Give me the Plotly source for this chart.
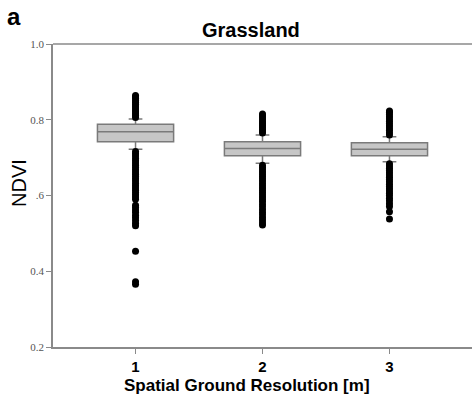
import plotly.graph_objects as go

# Resolutions (categories)
resolution = [1, 2, 3]
# Box statistics (NDVI)
q1 = [0.742, 0.705, 0.705]
median = [0.768, 0.724, 0.722]
q3 = [0.788, 0.742, 0.739]
lower_whisker = [0.722, 0.685, 0.689]
upper_whisker = [0.802, 0.760, 0.755]

# Outliers per resolution
outliers_1 = [0.806, 0.811, 0.816, 0.821, 0.826, 0.831, 0.836, 0.841, 0.846, 0.851, 0.856, 0.861, 0.864,
              0.716, 0.710, 0.704, 0.698, 0.692, 0.686, 0.680, 0.674, 0.668, 0.662, 0.656, 0.650, 0.644,
              0.638, 0.632, 0.626, 0.620, 0.614, 0.608, 0.602, 0.596, 0.590,
              0.574, 0.568, 0.562, 0.556, 0.548, 0.541, 0.534, 0.527, 0.520,
              0.453, 0.372, 0.366]
outliers_2 = [0.765, 0.770, 0.775, 0.780, 0.785, 0.790, 0.795, 0.800, 0.805, 0.810, 0.815,
              0.680, 0.674, 0.668, 0.662, 0.656, 0.650, 0.644, 0.638, 0.632, 0.626, 0.620, 0.614,
              0.608, 0.602, 0.596, 0.590, 0.584, 0.577, 0.570, 0.563, 0.556, 0.549, 0.542, 0.535,
              0.528, 0.522]
outliers_3 = [0.760, 0.766, 0.772, 0.778, 0.784, 0.790, 0.796, 0.802, 0.808, 0.814, 0.820, 0.823,
              0.684, 0.678, 0.672, 0.666, 0.660, 0.654, 0.648, 0.642, 0.636, 0.630, 0.624, 0.618,
              0.612, 0.606, 0.600, 0.593, 0.586, 0.578, 0.571, 0.557, 0.538]

y_ticks = [0.2, 0.4, 0.6, 0.8, 1.0]
y_ticktext = ["0.2", "0.4", ".6", "0.8", "1.0"]

W, H = 472, 400
L, R, T, B = 53, 0, 44, 53
pw, ph = W - L - R, H - T - B

def px(x):
    return (x - L) / pw

def py(y):
    return 1 - (y - T) / ph

fig = go.Figure()
for i, r in enumerate(resolution):
    fig.add_trace(go.Box(
        x=[r], q1=[q1[i]], median=[median[i]], q3=[q3[i]],
        lowerfence=[lower_whisker[i]], upperfence=[upper_whisker[i]],
        width=0.6, whiskerwidth=0.18,
        fillcolor="#c6c6c6", line=dict(color="#7a7a7a", width=1.5),
        showlegend=False, boxpoints=False,
    ))

for r, outs in zip(resolution, [outliers_1, outliers_2, outliers_3]):
    fig.add_trace(go.Scatter(
        x=[r] * len(outs), y=outs, mode="markers",
        marker=dict(color="black", size=7, line=dict(width=0)),
        showlegend=False,
    ))

sans = "Liberation Sans, Arial"
fig.update_layout(
    template="none",
    width=W, height=H,
    margin=dict(l=L, r=R, t=T, b=B),
    plot_bgcolor="white", paper_bgcolor="white",
    xaxis=dict(range=[0.35, 3.65], tickvals=resolution, ticktext=[f"<b>{r}</b>" for r in resolution],
               showline=True, linecolor="#8a8a8a", linewidth=1.5,
               ticks="outside", ticklen=5, tickcolor="#8a8a8a", showgrid=False, zeroline=False,
               tickfont=dict(family=sans, size=15, color="black")),
    yaxis=dict(range=[0.2, 1.0], tickvals=y_ticks, ticktext=y_ticktext,
               showline=True, linecolor="#8a8a8a", linewidth=1.5, mirror=False,
               ticks="outside", ticklen=5, tickcolor="#8a8a8a", showgrid=False, zeroline=False,
               tickfont=dict(family="Liberation Serif, Times New Roman", size=11, color="#555555")),
    shapes=[dict(type="line", xref="paper", yref="paper", x0=0, x1=1, y0=1, y1=1,
                 line=dict(color="#8a8a8a", width=1.5))],
)
fig.add_annotation(text="<b>a</b>", xref="paper", yref="paper", x=px(5), y=py(17),
                   xanchor="left", yanchor="middle", showarrow=False,
                   font=dict(family=sans, size=24, color="black"))
fig.add_annotation(text="<b>Grassland</b>", xref="paper", yref="paper", x=px(251), y=py(30),
                   xanchor="center", yanchor="middle", showarrow=False,
                   font=dict(family=sans, size=20, color="black"))
fig.add_annotation(text="<b>Spatial Ground Resolution [m]</b>", xref="paper", yref="paper",
                   x=px(247), y=py(385), xanchor="center", yanchor="middle", showarrow=False,
                   font=dict(family=sans, size=17, color="black"))
fig.add_annotation(text="NDVI", xref="paper", yref="paper", x=px(19), y=py(183),
                   xanchor="center", yanchor="middle", showarrow=False, textangle=-90,
                   font=dict(family=sans, size=20, color="black"))

fig.write_html("out.html")
